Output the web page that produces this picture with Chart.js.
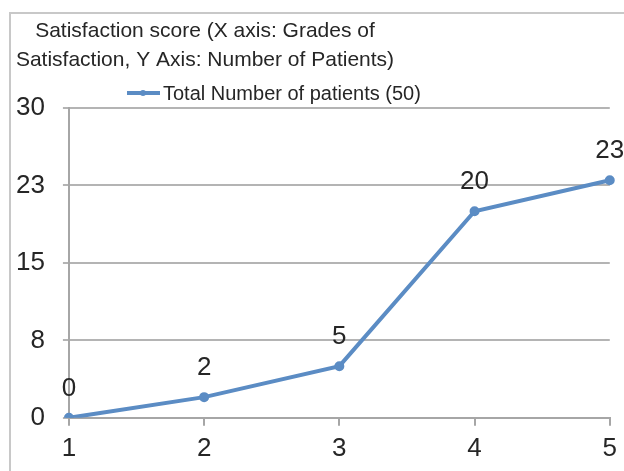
<!DOCTYPE html>
<html>
<head>
<meta charset="utf-8">
<script src="https://cdn.jsdelivr.net/npm/chart.js@4/dist/chart.umd.min.js"></script>
<style>
html,body{margin:0;padding:0;background:#fff;}
#wrap{width:624px;height:471px;position:relative;}
</style>
</head>
<body>
<div id="wrap"><canvas id="c" width="624" height="471"></canvas></div>
<script>
const categories = ['1', '2', '3', '4', '5'];
const patients = [0, 2, 5, 20, 23];
const seriesLabel = 'Total Number of patients (50)';
const titleLines = ['Satisfaction score (X axis: Grades of', 'Satisfaction, Y Axis: Number of Patients)'];
const yTicks = [0, 7.5, 15, 22.5, 30];

const FONT = '"Liberation Sans", Arial, sans-serif';
const LINE_COLOR = '#5b8cc4';
const TEXT_COLOR = '#262626';
const NUM_SIZE = 26;

const decor = {
  id: 'decor',
  beforeDraw(chart) {
    const ctx = chart.ctx;
    ctx.save();
    ctx.strokeStyle = '#c8c8c8';
    ctx.lineWidth = 2;
    ctx.strokeRect(10, 13, 640, 480);
    ctx.restore();
  },
  afterDraw(chart) {
    const ctx = chart.ctx;
    ctx.save();
    ctx.fillStyle = TEXT_COLOR;
    ctx.font = '21px ' + FONT;
    ctx.textAlign = 'center';
    ctx.textBaseline = 'alphabetic';
    ctx.fillText(titleLines[0], 205, 37);
    ctx.fillText(titleLines[1], 205, 66);
    // legend
    const ds = chart.data.datasets[0];
    ctx.font = '20px ' + FONT;
    ctx.textAlign = 'left';
    ctx.fillText(ds.label, 163, 100);
    ctx.strokeStyle = LINE_COLOR;
    ctx.lineWidth = 4;
    ctx.beginPath();
    ctx.moveTo(127, 93);
    ctx.lineTo(160, 93);
    ctx.stroke();
    ctx.fillStyle = LINE_COLOR;
    ctx.beginPath();
    ctx.arc(143, 93, 3, 0, Math.PI * 2);
    ctx.fill();
    // data labels
    const meta = chart.getDatasetMeta(0);
    ctx.fillStyle = TEXT_COLOR;
    ctx.font = NUM_SIZE + 'px ' + FONT;
    ctx.textAlign = 'center';
    ctx.textBaseline = 'middle';
    meta.data.forEach((pt, i) => {
      ctx.fillText(String(ds.data[i]), pt.x, pt.y - 29);
    });
    ctx.restore();
  }
};

new Chart(document.getElementById('c'), {
  type: 'line',
  data: {
    labels: categories,
    datasets: [{
      label: seriesLabel,
      data: patients,
      borderColor: LINE_COLOR,
      backgroundColor: LINE_COLOR,
      borderWidth: 4,
      pointRadius: 3,
      pointHoverRadius: 3,
      tension: 0
    }]
  },
  options: {
    responsive: false,
    animation: false,
    events: [],
    layout: { padding: { top: 108, left: -2, right: 12, bottom: 0 } },
    plugins: {
      legend: { display: false },
      title: { display: false },
      tooltip: { enabled: false }
    },
    scales: {
      x: {
        offset: false,
        grid: { drawOnChartArea: false, drawTicks: true, tickLength: 8, color: '#a6a6a6', lineWidth: 2 },
        border: { display: true, color: '#a6a6a6', width: 2 },
        ticks: { color: TEXT_COLOR, font: { size: NUM_SIZE, family: FONT }, padding: 7 }
      },
      y: {
        min: 0,
        max: 30,
        afterBuildTicks(axis) { axis.ticks = yTicks.map(v => ({ value: v })); },
        grid: { drawOnChartArea: true, drawTicks: true, tickLength: 6, color: '#b4b4b4', lineWidth: 2 },
        border: { display: true, color: '#a6a6a6', width: 2 },
        ticks: {
          color: TEXT_COLOR,
          font: { size: NUM_SIZE, family: FONT },
          padding: 18,
          callback: v => String(Math.round(v))
        }
      }
    }
  },
  plugins: [decor]
});
</script>
</body>
</html>
